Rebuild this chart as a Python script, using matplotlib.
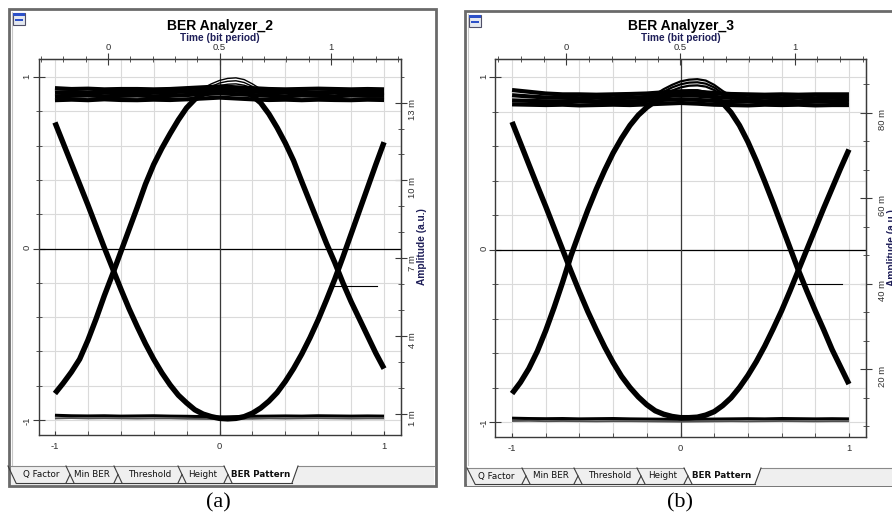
import numpy as np
import matplotlib
matplotlib.use("Agg")
import matplotlib.pyplot as plt
from matplotlib.lines import Line2D
from matplotlib.patches import Rectangle, Polygon
from matplotlib.ticker import MultipleLocator, FuncFormatter

plt.rcParams['axes.unicode_minus'] = False
plt.rcParams['font.family'] = ['Liberation Sans', 'DejaVu Sans']

W, H = 892, 520

# sample grids (bit period units of the bottom axis)
x_eye = np.round(np.arange(-1.0, 1.0001, 0.05), 2)
x_rail = np.round(np.arange(-1.0, 1.0001, 0.1), 2)
x_bump = [-0.2, -0.15, -0.1, -0.05, 0.0, 0.05, 0.1, 0.15, 0.2, 0.25, 0.3]

# ---- panel (a): BER Analyzer_2 ----
u_a = [0.735, 0.615, 0.495, 0.375, 0.255, 0.13, 0.005, -0.115, -0.235, -0.35,
       -0.455, -0.555, -0.645, -0.725, -0.795, -0.855, -0.9, -0.94, -0.965, -0.98,
       -0.99, -0.993, -0.99, -0.98, -0.96, -0.93, -0.89, -0.84, -0.775, -0.70,
       -0.615, -0.52, -0.415, -0.30, -0.18, -0.05, 0.085, 0.22, 0.355, 0.49, 0.62]
n_a = [-0.845, -0.785, -0.72, -0.645, -0.535, -0.41, -0.275, -0.15, -0.02, 0.11,
       0.24, 0.375, 0.49, 0.585, 0.67, 0.75, 0.82, 0.87, 0.9, 0.92,
       0.93, 0.935, 0.93, 0.92, 0.89, 0.85, 0.785, 0.705, 0.615, 0.513,
       0.39, 0.27, 0.15, 0.03, -0.08, -0.2, -0.31, -0.41, -0.51, -0.61, -0.70]
rail_a = [
    [0.935, 0.93, 0.932, 0.928, 0.93, 0.93, 0.928, 0.93, 0.935, 0.94, 0.945,
     0.94, 0.935, 0.93, 0.928, 0.93, 0.932, 0.93, 0.928, 0.93, 0.928],
    [0.91, 0.912, 0.908, 0.91, 0.912, 0.908, 0.91, 0.912, 0.915, 0.92, 0.925,
     0.92, 0.915, 0.91, 0.912, 0.908, 0.91, 0.912, 0.91, 0.908, 0.91],
    [0.888, 0.89, 0.892, 0.888, 0.89, 0.892, 0.888, 0.89, 0.895, 0.9, 0.905,
     0.9, 0.895, 0.89, 0.888, 0.892, 0.89, 0.888, 0.892, 0.89, 0.89],
    [0.865, 0.868, 0.865, 0.87, 0.866, 0.865, 0.868, 0.866, 0.87, 0.875, 0.88,
     0.875, 0.87, 0.866, 0.868, 0.865, 0.868, 0.866, 0.865, 0.868, 0.866],
]
low_a = [
    [-0.972, -0.975, -0.976, -0.975, -0.977, -0.976, -0.975, -0.977, -0.978, -0.98, -0.982,
     -0.98, -0.978, -0.977, -0.976, -0.977, -0.975, -0.976, -0.977, -0.976, -0.977],
    [-0.99, -0.988, -0.99, -0.989, -0.99, -0.991, -0.99, -0.99, -0.992, -0.993, -0.994,
     -0.993, -0.992, -0.99, -0.991, -0.99, -0.989, -0.99, -0.991, -0.99, -0.99],
]
bump_a = [
    [0.9, 0.915, 0.935, 0.96, 0.98, 0.992, 0.995, 0.985, 0.96, 0.93, 0.91],
    [0.895, 0.905, 0.925, 0.945, 0.965, 0.975, 0.978, 0.968, 0.945, 0.92, 0.9],
    [0.89, 0.9, 0.915, 0.932, 0.95, 0.958, 0.96, 0.952, 0.935, 0.91, 0.895],
]
thr_a = ([0.675, 0.96], [-0.22, -0.22])
amp_ticks_a = [1, 4, 7, 10, 13]

# ---- panel (b): BER Analyzer_3 ----
u_b = [0.74, 0.617, 0.493, 0.37, 0.25, 0.125, 0.0, -0.125, -0.245, -0.36,
       -0.465, -0.565, -0.655, -0.735, -0.80, -0.855, -0.90, -0.935, -0.955, -0.968,
       -0.975, -0.975, -0.972, -0.96, -0.94, -0.905, -0.86, -0.80, -0.73, -0.65,
       -0.56, -0.46, -0.355, -0.24, -0.12, 0.0, 0.12, 0.24, 0.355, 0.47, 0.58]
n_b = [-0.835, -0.77, -0.69, -0.59, -0.47, -0.335, -0.19, -0.035, 0.10, 0.23,
       0.35, 0.46, 0.56, 0.645, 0.72, 0.78, 0.825, 0.86, 0.885, 0.90,
       0.91, 0.915, 0.915, 0.905, 0.885, 0.85, 0.795, 0.72, 0.625, 0.515,
       0.395, 0.27, 0.14, 0.01, -0.12, -0.24, -0.355, -0.465, -0.58, -0.68, -0.78]
rail_b = [
    [0.925, 0.915, 0.905, 0.9, 0.9, 0.898, 0.9, 0.902, 0.905, 0.912, 0.918,
     0.915, 0.908, 0.902, 0.9, 0.898, 0.9, 0.898, 0.9, 0.9, 0.9],
    [0.895, 0.888, 0.882, 0.88, 0.878, 0.88, 0.878, 0.88, 0.885, 0.89, 0.895,
     0.892, 0.885, 0.88, 0.878, 0.88, 0.878, 0.88, 0.878, 0.88, 0.878],
    [0.865, 0.862, 0.86, 0.858, 0.86, 0.858, 0.856, 0.86, 0.862, 0.868, 0.872,
     0.868, 0.862, 0.858, 0.86, 0.858, 0.86, 0.856, 0.858, 0.86, 0.858],
    [0.842, 0.84, 0.838, 0.84, 0.836, 0.838, 0.84, 0.838, 0.842, 0.846, 0.85,
     0.846, 0.84, 0.838, 0.836, 0.84, 0.838, 0.84, 0.836, 0.838, 0.838],
]
low_b = [
    [-0.978, -0.98, -0.981, -0.98, -0.982, -0.981, -0.98, -0.982, -0.983, -0.984, -0.985,
     -0.984, -0.983, -0.982, -0.981, -0.982, -0.98, -0.981, -0.982, -0.981, -0.982],
    [-0.994, -0.993, -0.995, -0.994, -0.995, -0.996, -0.995, -0.995, -0.996, -0.997, -0.998,
     -0.997, -0.996, -0.995, -0.996, -0.995, -0.994, -0.995, -0.996, -0.995, -0.995],
]
bump_b = [
    [0.88, 0.9, 0.93, 0.955, 0.975, 0.985, 0.988, 0.98, 0.955, 0.92, 0.89],
    [0.875, 0.89, 0.915, 0.94, 0.958, 0.968, 0.97, 0.962, 0.94, 0.905, 0.88],
    [0.87, 0.882, 0.9, 0.922, 0.94, 0.95, 0.952, 0.945, 0.925, 0.895, 0.875],
]
thr_b = ([0.70, 0.96], [-0.2, -0.2])
amp_ticks_b = [20, 40, 60, 80]

tab_labels = ["Q Factor", "Min BER", "Threshold", "Height", "BER Pattern"]

fig = plt.figure(figsize=(W / 100, H / 100), dpi=100)


def fx(x):
    return x / W


def fy(y):
    return 1 - y / H


def fline(xs, ys, **kw):
    fig.add_artist(Line2D([fx(v) for v in xs], [fy(v) for v in ys],
                          transform=fig.transFigure, **kw))


def frect(x, y, w, h, **kw):
    fig.add_artist(Rectangle((fx(x), fy(y + h)), w / W, h / H,
                             transform=fig.transFigure, **kw))


def window(x0, y0, x1, y1):
    frect(x0, y0, x1 - x0, y1 - y0, facecolor="white", edgecolor="#6a6a6a", lw=2.0, zorder=-2)
    fline([x0 + 3, x0 + 3], [y0 + 3, y1 - 20], color="#c8c8c8", lw=0.8, zorder=-1)
    # small window icon
    frect(x0 + 4, y0 + 4, 12, 12, facecolor="#e4e8f0", edgecolor="#505068", lw=0.8)
    frect(x0 + 4, y0 + 4, 12, 3, facecolor="#2c50c8", edgecolor="none")
    frect(x0 + 6, y0 + 10, 8, 2, facecolor="#2c50c8", edgecolor="none")


def tabs(xl, xr, yt, yb, seps, centers, ty):
    frect(xl, yt, xr - xl, yb - yt + 2, facecolor="#efefef", edgecolor="none", zorder=-1)
    a, e = seps[-2], seps[-1]
    fig.add_artist(Polygon([(fx(a - 4), fy(yt)), (fx(e + 3), fy(yt)), (fx(e - 3), fy(yb)),
                            (fx(a + 4), fy(yb))], closed=True, transform=fig.transFigure,
                           facecolor="white", edgecolor="none"))
    lc = "#3c3c3c"
    fline([xl, a - 4], [yt, yt], color="#8a8a8a", lw=0.8)
    fline([e + 3, xr], [yt, yt], color="#8a8a8a", lw=0.8)
    fline([seps[0] + 4, e - 3], [yb, yb], color=lc, lw=0.8)
    fline([seps[0] - 4, seps[0] + 4], [yt, yb], color=lc, lw=0.8)
    for s in seps[1:-1]:
        fline([s - 4, s + 4], [yt, yb], color=lc, lw=0.8)
        fline([s - 4, s], [yb, (yt + yb) / 2], color=lc, lw=0.8)
    fline([e - 3, e + 3], [yb, yt], color=lc, lw=0.8)
    for i, (lab, c) in enumerate(zip(tab_labels, centers)):
        fig.text(fx(c), fy(ty), lab, ha="center", va="center", fontsize=6.3,
                 family="DejaVu Sans", fontweight="bold" if i == 4 else "normal",
                 color="#101010")


def panel(box, title, tcx, u, n, rails, lows, bumps, bump_lw, thr,
          amp_fwd, amp_inv, amp_ticks, amp_minor, rpad):
    l, t, r, b = box
    ax = fig.add_axes([fx(l), fy(b), (r - l) / W, (b - t) / H])
    ax.set_facecolor("white")
    ax.set_xlim(-1.1, 1.1)
    ax.set_ylim(-1.087, 1.105)
    ax.set_xticks([-1, 0, 1])
    ax.set_yticks([-1, 0, 1])
    ax.xaxis.set_minor_locator(MultipleLocator(0.2))
    ax.yaxis.set_minor_locator(MultipleLocator(0.2))
    ax.xaxis.set_major_formatter(FuncFormatter(lambda v, p: f"{v:g}"))
    ax.yaxis.set_major_formatter(FuncFormatter(lambda v, p: f"{v:g}"))
    ax.grid(which="both", color="#dadada", lw=0.8)
    ax.set_axisbelow(True)
    for s in ax.spines.values():
        s.set_color("#3a3a3a")
        s.set_linewidth(1.0)
    ax.tick_params(axis="x", which="both", direction="in", length=3, color="#3a3a3a",
                   labelsize=6.8, labelcolor="#303030", pad=5, top=False)
    ax.tick_params(axis="y", which="major", direction="inout", length=8, color="#3a3a3a",
                   labelsize=6.8, labelcolor="#303030", pad=1, labelrotation=90, right=False)
    ax.tick_params(axis="y", which="minor", direction="inout", length=4, color="#3a3a3a",
                   right=False)

    ax.axhline(0, color="black", lw=0.9, zorder=1.5)
    ax.axvline(0, color="#3a3a3a", lw=0.9, zorder=1.5)

    for rl in rails:
        ax.plot(x_rail, rl, color="black", lw=3.0, solid_capstyle="butt", zorder=3)
    for lo in lows[:1]:
        ax.plot(x_rail, lo, color="black", lw=2.2, solid_capstyle="butt", zorder=3)
    for lo in lows[1:]:
        ax.plot(x_rail, lo, color="#505050", lw=1.4, solid_capstyle="butt", zorder=3)
    for bp in bumps:
        ax.plot(x_bump, bp, color="black", lw=bump_lw, zorder=3)
    ax.plot(x_eye, u, color="black", lw=3.9, solid_capstyle="butt", zorder=3)
    ax.plot(x_eye, n, color="black", lw=3.9, solid_capstyle="butt", zorder=3)
    ax.plot(thr[0], thr[1], color="black", lw=0.8, zorder=3)

    # top axis: time in bit periods
    sx = ax.secondary_xaxis("top", functions=(lambda v: 0.5 + 0.738 * v,
                                              lambda v: (v - 0.5) / 0.738))
    sx.set_xticks([0, 0.5, 1])
    sx.xaxis.set_major_formatter(FuncFormatter(lambda v, p: f"{v:g}"))
    sx.xaxis.set_minor_locator(MultipleLocator(0.1))
    sx.tick_params(which="major", direction="inout", length=8, color="#3a3a3a",
                   labelsize=6.8, labelcolor="#303030", pad=1)
    sx.tick_params(which="minor", direction="inout", length=4, color="#3a3a3a")
    sx.spines["top"].set_color("#3a3a3a")

    # right axis: amplitude
    sy = ax.secondary_yaxis("right", functions=(amp_fwd, amp_inv))
    sy.set_yticks(amp_ticks)
    sy.yaxis.set_major_formatter(FuncFormatter(lambda v, p: f"{v:.0f} m"))
    sy.yaxis.set_minor_locator(MultipleLocator(amp_minor))
    sy.tick_params(which="major", direction="inout", length=8, color="#3a3a3a",
                   labelsize=6.8, labelcolor="#303030", pad=rpad, labelrotation=90)
    sy.tick_params(which="minor", direction="inout", length=4, color="#3a3a3a")
    sy.spines["right"].set_color("#3a3a3a")
    sy.set_ylabel("Amplitude (a.u.)", fontsize=7.3, fontweight="bold", color="#1e1e58",
                  labelpad=0)

    fig.text(fx(tcx), fy(26), title, ha="center", va="center", fontsize=10,
             fontweight="bold", color="black")
    fig.text(fx(tcx), fy(38), "Time (bit period)", ha="center", va="center",
             fontsize=7.3, fontweight="bold", color="#1e1e58")
    return ax


# panel (a)
window(9, 9, 436, 486)
panel((38.5, 59, 400.5, 435), "BER Analyzer_2", 220, u_a, n_a, rail_a, low_a, bump_a, 1.0,
      thr_a, lambda v: 7.37 + 6.62 * v, lambda r: (r - 7.37) / 6.62, amp_ticks_a, 1, 1.5)
tabs(11, 434, 466, 483, [12, 70, 118, 182, 228, 295], [41, 92, 149.5, 203, 261], 474.5)
fig.text(fx(218), fy(503), "(a)", ha="center", va="center", fontsize=16,
         family="Liberation Serif", color="black")

# panel (b)
window(465, 11, 900, 485)
panel((495.2, 59, 865.8, 437), "BER Analyzer_3", 681, u_b, n_b, rail_b, low_b, bump_b, 1.6,
      thr_b, lambda v: 48 + 40.35 * v, lambda r: (r - 48) / 40.35, amp_ticks_b, 20 / 3, 5)
tabs(467, 892, 468, 484, [471, 526, 578, 641, 688, 758], [496, 550.5, 609.5, 663, 722], 476)
fig.text(fx(680), fy(503), "(b)", ha="center", va="center", fontsize=16,
         family="Liberation Serif", color="black")

fig.savefig("out.png", dpi=100)
